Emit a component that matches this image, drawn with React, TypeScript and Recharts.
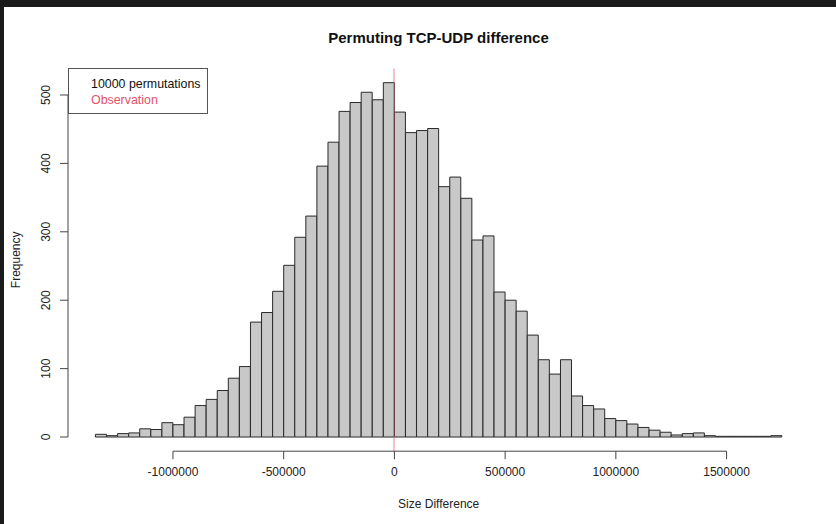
import { Bar, ComposedChart, Label, ReferenceLine, XAxis, YAxis } from "recharts";

// lower edges of the histogram bins, in thousands
const binStartsK = [
  -1350, -1300, -1250, -1200, -1150, -1100, -1050, -1000, -950, -900, -850, -800, -750, -700, -650, -600,
  -550, -500, -450, -400, -350, -300, -250, -200, -150, -100, -50, 0, 50, 100, 150, 200, 250, 300, 350,
  400, 450, 500, 550, 600, 650, 700, 750, 800, 850, 900, 950, 1000, 1050, 1100, 1150, 1200, 1250, 1300,
  1350, 1400, 1450, 1500, 1550, 1600, 1650, 1700
];
const binWidthK = 50;

const counts = [
  4, 2, 5, 6, 12, 11, 21, 18, 29, 46, 55, 68, 86, 103, 168, 182,
  213, 251, 292, 323, 396, 431, 476, 489, 504, 493, 518, 475, 445, 448, 451, 366, 380, 349, 288,
  294, 212, 200, 184, 149, 113, 92, 113, 60, 46, 41, 27, 24, 19, 14, 10, 7, 3, 5,
  6, 2, 1, 1, 1, 1, 1, 2
];

const xTicks = [-1000000, -500000, 0, 500000, 1000000, 1500000];
const yTicks = [0, 100, 200, 300, 400, 500];
const observation = -2000;
const legendLabels = ["10000 permutations", "Observation"];

const data = binStartsK.map((s, i) => ({ mid: (s + binWidthK / 2) * 1000, count: counts[i] }));

// R-style 4% extension of the plotted range
const lo = binStartsK[0] * 1000;
const hi = (binStartsK[binStartsK.length - 1] + binWidthK) * 1000;
const xPad = (hi - lo) * 0.04;
const xDomain = [lo - xPad, hi + xPad];
const yMax = Math.max(...counts);
const yDomain = [-yMax * 0.04, yMax * 1.04];

const font = '"Liberation Sans", Arial, Helvetica, sans-serif';
const obsColor = "#DF536B";

function YTick(props: any) {
  const { x, y, payload } = props;
  return (
    <text
      transform={`translate(${x - 14},${y}) rotate(-90)`}
      textAnchor="middle"
      dominantBaseline="central"
      fontSize={12}
      fill="#222"
    >
      {payload.value}
    </text>
  );
}

export default function App() {
  return (
    <div style={{ position: "absolute", left: 0, top: 0, width: 836, height: 524, background: "#fff", overflow: "hidden", fontFamily: font }}>
      <ComposedChart
        width={836}
        height={524}
        data={data}
        margin={{ top: 68.5, right: 26.6, bottom: 22.8, left: 8 }}
        barCategoryGap={0}
        barGap={0}
        style={{ fontFamily: font }}
      >
        <XAxis
          type="number"
          dataKey="mid"
          domain={xDomain}
          ticks={xTicks}
          interval={0}
          allowDataOverflow
          height={50}
          axisLine={false}
          tickSize={8}
          tickMargin={8}
          tickLine={{ stroke: "#444" }}
          tick={{ fontSize: 12, fill: "#222" }}
        >
          <Label
            content={(p: any) => (
              <text
                x={p.viewBox.x + p.viewBox.width / 2}
                y={p.viewBox.y + 53}
                textAnchor="middle"
                dominantBaseline="central"
                fontSize={12}
                fill="#222"
              >
                Size Difference
              </text>
            )}
          />
        </XAxis>
        <YAxis
          type="number"
          domain={yDomain}
          ticks={yTicks}
          interval={0}
          allowDataOverflow
          width={60}
          axisLine={false}
          tickSize={8}
          tickMargin={0}
          tickLine={{ stroke: "#444" }}
          tick={<YTick />}
        >
          <Label
            content={(p: any) => {
              const cy = p.viewBox.y + p.viewBox.height / 2;
              return (
                <text
                  transform={`translate(16,${cy}) rotate(-90)`}
                  textAnchor="middle"
                  dominantBaseline="central"
                  fontSize={12}
                  fill="#222"
                >
                  Frequency
                </text>
              );
            }}
          />
        </YAxis>
        <ReferenceLine
          segment={[{ x: xTicks[0], y: yDomain[0] }, { x: xTicks[xTicks.length - 1], y: yDomain[0] }]}
          stroke="#444"
          ifOverflow="visible"
        />
        <ReferenceLine
          segment={[{ x: xDomain[0], y: yTicks[0] }, { x: xDomain[0], y: yTicks[yTicks.length - 1] }]}
          stroke="#444"
          ifOverflow="visible"
        />
        <Bar dataKey="count" fill="#c8c8c8" stroke="#2a2a2a" strokeWidth={1} isAnimationActive={false} />
        <ReferenceLine x={observation} stroke={obsColor} strokeOpacity={0.55} strokeWidth={1.3} ifOverflow="visible" />
      </ComposedChart>

      <div
        style={{
          position: "absolute",
          left: 68,
          width: 741,
          top: 29,
          textAlign: "center",
          fontWeight: "bold",
          fontSize: 15,
          color: "#111",
          lineHeight: "18px"
        }}
      >
        Permuting TCP-UDP difference
      </div>

      <div
        style={{
          position: "absolute",
          left: 68,
          top: 68,
          width: 140,
          height: 46,
          border: "1px solid #555",
          background: "#fff",
          fontSize: 12.4,
          lineHeight: "16px",
          boxSizing: "border-box",
          paddingLeft: 22,
          paddingTop: 7
        }}
      >
        <div style={{ color: "#111" }}>{legendLabels[0]}</div>
        <div style={{ color: obsColor }}>{legendLabels[1]}</div>
      </div>

      <div style={{ position: "absolute", left: 0, top: 0, width: 836, height: 7, background: "#1b1b1b" }} />
      <div style={{ position: "absolute", left: 0, top: 0, width: 4, height: 524, background: "#1b1b1b" }} />
    </div>
  );
}
